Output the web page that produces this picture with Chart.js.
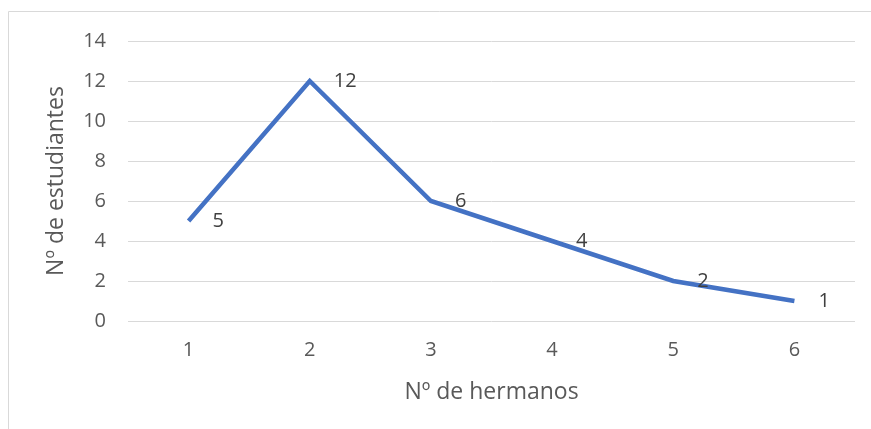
<!DOCTYPE html>
<html>
<head>
<meta charset="utf-8">
<script src="https://cdn.jsdelivr.net/npm/chart.js@4"></script>
<style>
  html, body { margin: 0; padding: 0; background: #fff; }
  #wrap { position: relative; width: 871px; height: 429px; }
</style>
</head>
<body>
<div id="wrap"><canvas id="chart" width="871" height="429"></canvas></div>
<script>
// Chart data
const hermanos = ['1', '2', '3', '4', '5', '6'];
const estudiantes = [5, 12, 6, 4, 2, 1];
const yTicks = [0, 2, 4, 6, 8, 10, 12, 14];

const FONT = "'Open Sans', sans-serif";

// light frame around the chart (only left and top edges are visible)
const framePlugin = {
  id: 'frame',
  beforeDraw(chart) {
    const ctx = chart.ctx;
    ctx.save();
    ctx.strokeStyle = '#d9d9d9';
    ctx.lineWidth = 1;
    ctx.beginPath();
    ctx.moveTo(8.5, chart.height);
    ctx.lineTo(8.5, 11.5);
    ctx.lineTo(chart.width, 11.5);
    ctx.stroke();
    ctx.restore();
  }
};

// value labels to the right of each point
const valueLabels = {
  id: 'valueLabels',
  afterDatasetsDraw(chart) {
    const ctx = chart.ctx;
    const meta = chart.getDatasetMeta(0);
    ctx.save();
    ctx.font = '20px ' + FONT;
    ctx.fillStyle = '#404040';
    ctx.textAlign = 'left';
    ctx.textBaseline = 'middle';
    meta.data.forEach((pt, i) => {
      ctx.fillText(String(estudiantes[i]), pt.x + 24, pt.y);
    });
    ctx.restore();
  }
};

const ctx = document.getElementById('chart').getContext('2d');
new Chart(ctx, {
  type: 'line',
  data: {
    labels: hermanos,
    datasets: [{
      data: estudiantes,
      borderColor: '#4472C4',
      borderWidth: 4.5,
      pointRadius: 0,
      tension: 0,
      fill: false
    }]
  },
  options: {
    responsive: false,
    animation: false,
    layout: { padding: { top: 41, right: 16, left: 0, bottom: 0 } },
    plugins: {
      legend: { display: false },
      tooltip: { enabled: false }
    },
    scales: {
      x: {
        offset: true,
        grid: { display: false, drawTicks: false },
        border: { display: false },
        ticks: { color: '#595959', font: { family: FONT, size: 20 }, padding: 17 },
        title: {
          display: true,
          text: 'Nº de hermanos',
          color: '#595959',
          font: { family: FONT, size: 23 },
          padding: { top: 0, bottom: 23 }
        },
        afterFit(scale) { scale.height = 108; }
      },
      y: {
        min: 0,
        max: 14,
        afterBuildTicks(scale) { scale.ticks = yTicks.map(v => ({ value: v })); },
        grid: { color: '#d9d9d9', lineWidth: 1, drawTicks: false },
        border: { display: false },
        ticks: { color: '#595959', font: { family: FONT, size: 20 }, padding: 22 },
        title: {
          display: true,
          text: 'Nº de estudiantes',
          color: '#595959',
          font: { family: FONT, size: 23 },
          padding: { top: 43, bottom: 0 }
        },
        afterFit(scale) { scale.width = 128; }
      }
    }
  },
  plugins: [framePlugin, valueLabels]
});
</script>
</body>
</html>
